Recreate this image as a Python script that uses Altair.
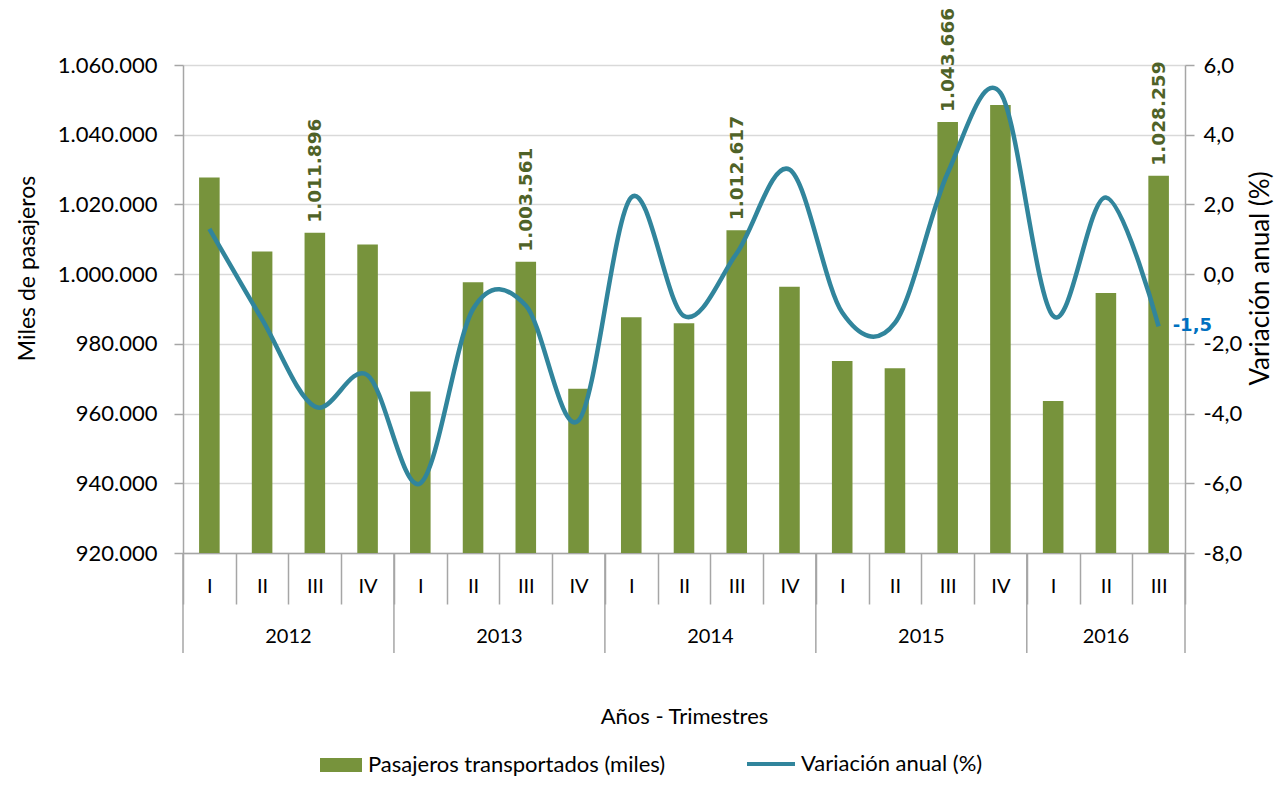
import altair as alt
import pandas as pd

# ---- data ----
years = ["2012"] * 4 + ["2013"] * 4 + ["2014"] * 4 + ["2015"] * 4 + ["2016"] * 3
quarters = ["I", "II", "III", "IV"] * 4 + ["I", "II", "III"]
pasajeros = [1027700, 1006500, 1011896, 1008500, 966300, 997700, 1003561, 967100,
             987600, 985900, 1012617, 996400, 975100, 973000, 1043666, 1048500,
             963600, 994600, 1028259]
variacion = [1.3, -1.3, -3.8, -2.9, -6.0, -1.0, -0.9, -4.2,
             2.2, -1.2, 0.6, 3.0, -1.1, -1.4, 2.9, 5.2,
             -1.2, 2.2, -1.5]
serie_barras = "Pasajeros transportados (miles)"
serie_linea = "Variación anual (%)"

keys = [f"{y}-{q}" for y, q in zip(years, quarters)]
df = pd.DataFrame({"key": keys, "year": years, "quarter": quarters,
                   "pasajeros": pasajeros, "variacion": variacion})
df["serie_bar"] = serie_barras
df["serie_line"] = serie_linea

# year groups: first key, label anchor
ygroups = []
for y in dict.fromkeys(years):
    ks = [k for k, yy in zip(keys, years) if yy == y]
    n = len(ks)
    if n % 2 == 0:
        ygroups.append({"year": y, "first": ks[0], "key": ks[n // 2 - 1], "even": True})
    else:
        ygroups.append({"year": y, "first": ks[0], "key": ks[n // 2], "even": False})
ydf = pd.DataFrame(ygroups)
starts = pd.DataFrame({"key": ydf["first"]})
end = pd.DataFrame({"key": [keys[-1]]})

# ---- style ----
W, H = 1002, 488
FONT = "Lato"
GREEN = "#77933C"
TEAL = "#31859C"
AX = "#a6a6a6"

xscale = alt.Scale(domain=keys, paddingInner=0, paddingOuter=0)
xaxis = alt.Axis(title="Años - Trimestres", tickBand="extent", tickSize=51,
                 tickColor=AX, tickWidth=1.5, domainColor=AX, domainWidth=1.5,
                 labelExpr="split(datum.value, '-')[1]", labelPadding=-28,
                 labelFontSize=20, labelFont=FONT, labelColor="#000", labelAngle=0,
                 labelOverlap=False, grid=False,
                 titleFontSize=22, titleFont=FONT, titleFontWeight="normal",
                 titleColor="#000", titleX=W / 2, titleY=163,
                 titleBaseline="middle", titleAlign="center")

yleft_axis = alt.Axis(title="Miles de pasajeros",
                      values=list(range(920000, 1060001, 20000)), format=",.0f",
                      grid=True, gridColor="#d9d9d9", gridWidth=1.5,
                      domainColor=AX, domainWidth=1.5, tickColor=AX, tickWidth=1.5,
                      tickSize=9, labelPadding=17, labelFontSize=22, labelFont=FONT,
                      labelColor="#000", titleFontSize=23, titleFont=FONT,
                      titleFontWeight="normal", titleColor="#000", titleAngle=270,
                      titleX=-156, titleY=203, titleBaseline="middle", titleAlign="center")

yright_axis = alt.Axis(title="Variación anual (%)", orient="right",
                       values=list(range(-8, 7, 2)), format=",.1f", grid=False,
                       domainColor=AX, domainWidth=1.5, tickColor=AX, tickWidth=1.5,
                       tickSize=9, labelPadding=9, labelFontSize=22, labelFont=FONT,
                       labelColor="#000", titleFontSize=26, titleFont=FONT,
                       titleFontWeight="normal", titleColor="#000", titleAngle=270,
                       titleX=75, titleY=213, titleBaseline="middle", titleAlign="center")

X = alt.X("key:N", scale=xscale, axis=xaxis, sort=keys)
yleft_scale = alt.Scale(domain=[920000, 1060000], zero=False, nice=False)
yright_scale = alt.Scale(domain=[-8, 6], zero=False, nice=False)

bars = alt.Chart(df).mark_bar(width=alt.RelativeBandSize(0.39)).encode(
    x=X,
    y=alt.Y("pasajeros:Q", scale=yleft_scale, axis=yleft_axis),
    y2=alt.datum(920000),
    fill=alt.Fill("serie_bar:N", scale=alt.Scale(domain=[serie_barras], range=[GREEN]),
                  legend=alt.Legend(title=None, orient="none", legendX=137, legendY=679,
                                    symbolType="M-1,-0.33H1V0.33H-1Z", symbolSize=1764,
                                    symbolStrokeWidth=0, labelFontSize=22, labelFont=FONT,
                                    labelColor="#000", labelLimit=500, labelOffset=6)),
)

bar_labels = alt.Chart(df).transform_filter(alt.datum.quarter == "III").mark_text(
    angle=270, align="left", baseline="middle", dx=10, font="DejaVu Sans",
    fontWeight="bold", fontSize=18.5, color="#4F6228").encode(
    x=X,
    y=alt.Y("pasajeros:Q", scale=yleft_scale, axis=yleft_axis),
    text=alt.Text("pasajeros:Q", format=",.0f"),
)

line = alt.Chart(df).mark_line(interpolate="cardinal", tension=0, strokeWidth=4.5).encode(
    x=X,
    y=alt.Y("variacion:Q", scale=yright_scale, axis=yright_axis),
    stroke=alt.Stroke("serie_line:N", scale=alt.Scale(domain=[serie_linea], range=[TEAL]),
                      legend=alt.Legend(title=None, orient="none", legendX=562, legendY=673,
                                        symbolType="stroke", symbolSize=2304,
                                        symbolStrokeWidth=4, labelFontSize=22,
                                        labelFont=FONT, labelColor="#000",
                                        labelLimit=500, labelOffset=4)),
)

end_label = alt.Chart(df).transform_filter(alt.datum.key == keys[-1]).mark_text(
    align="left", baseline="middle", dx=14, font="DejaVu Sans", fontWeight="bold",
    fontSize=18, color="#0070C0").encode(
    x=X,
    y=alt.Y("variacion:Q", scale=yright_scale, axis=yright_axis),
    text=alt.Text("variacion:Q", format=",.1f"),
)

sep_start = alt.Chart(starts).mark_rule(color=AX, strokeWidth=1.5).encode(
    x=alt.X("key:N", scale=xscale, axis=xaxis, sort=keys, bandPosition=0),
    y=alt.value(H), y2=alt.value(H + 100))
sep_end = alt.Chart(end).mark_rule(color=AX, strokeWidth=1.5).encode(
    x=alt.X("key:N", scale=xscale, axis=xaxis, sort=keys, bandPosition=1),
    y=alt.value(H), y2=alt.value(H + 100))

year_even = alt.Chart(ydf).transform_filter(alt.datum.even == True).mark_text(
    font=FONT, fontSize=20, color="#000", baseline="middle").encode(
    x=alt.X("key:N", scale=xscale, axis=xaxis, sort=keys, bandPosition=1),
    y=alt.value(H + 84), text="year:N")
year_odd = alt.Chart(ydf).transform_filter(alt.datum.even == False).mark_text(
    font=FONT, fontSize=20, color="#000", baseline="middle").encode(
    x=alt.X("key:N", scale=xscale, axis=xaxis, sort=keys, bandPosition=0.5),
    y=alt.value(H + 84), text="year:N")

left = alt.layer(bars, bar_labels)
right = alt.layer(line, end_label)

chart = alt.layer(left, right, sep_start, sep_end, year_even, year_odd).resolve_scale(
    y="independent"
).properties(
    width=W, height=H,
    autosize=alt.AutoSizeParams(type="none"),
    padding={"left": 175, "top": 57, "right": 90, "bottom": 227},
).configure_view(stroke="transparent")

chart.save("out.html", embed_options={
    "renderer": "svg", "actions": False,
    "formatLocale": {"decimal": ",", "thousands": ".", "grouping": [3],
                     "currency": ["", " €"], "minus": "-"},
})
